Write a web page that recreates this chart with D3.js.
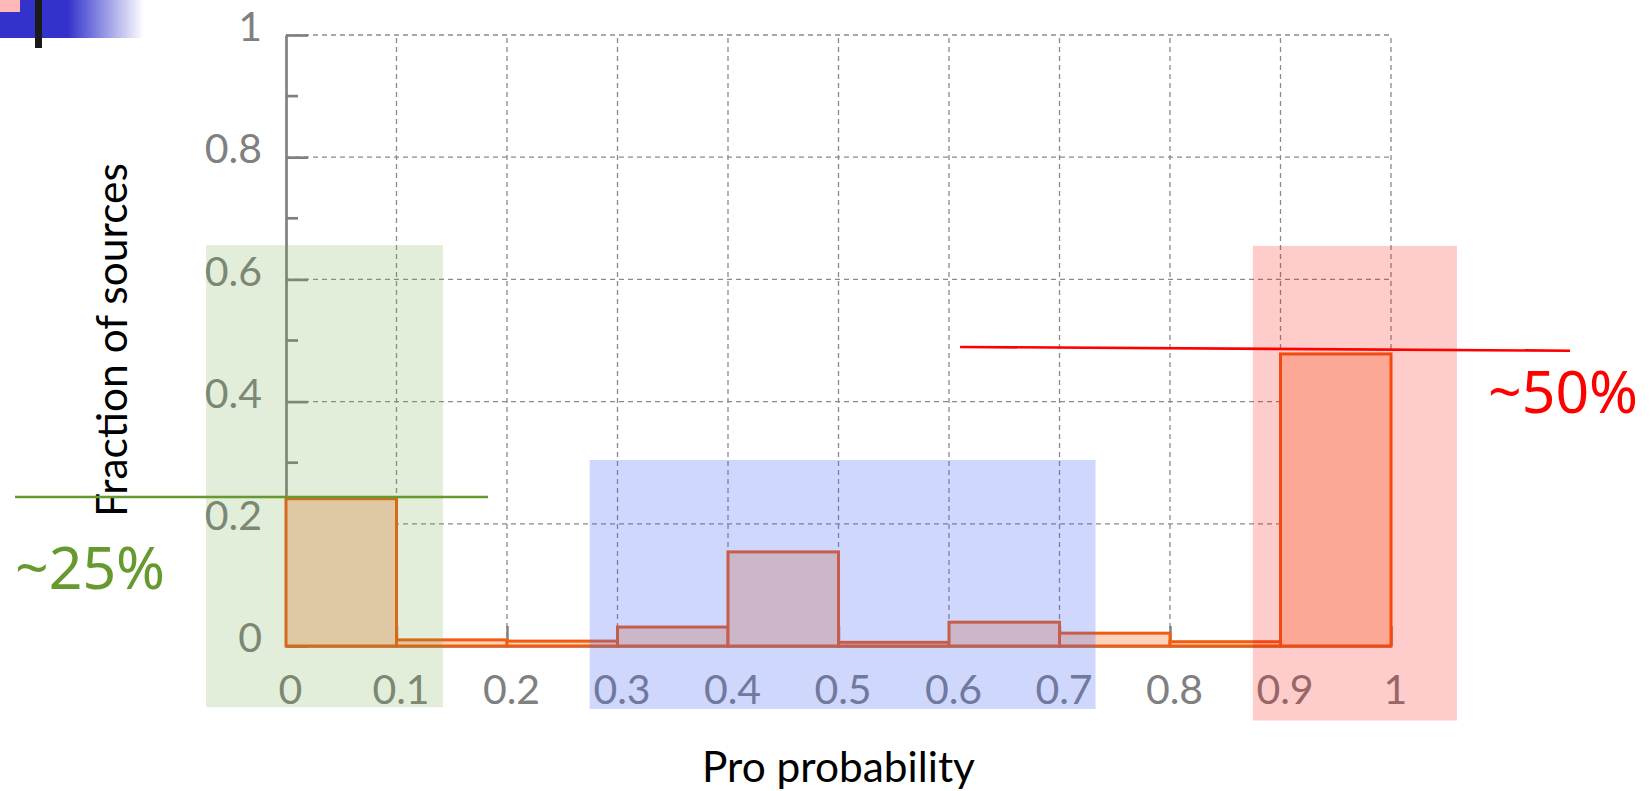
<!DOCTYPE html>
<html>
<head>
<meta charset="utf-8">
<script src="https://cdn.jsdelivr.net/npm/d3@7"></script>
<style>
html,body{margin:0;padding:0;background:#fff;}
svg{display:block;}
</style>
</head>
<body>
<svg id="chart" width="1650" height="791"></svg>
<script>
// ---- data ----
const binStarts = [0, 0.1, 0.2, 0.3, 0.4, 0.5, 0.6, 0.7, 0.8, 0.9];
const binWidth = 0.1;
const fractions = [0.241, 0.010, 0.008, 0.031, 0.154, 0.006, 0.039, 0.021, 0.007, 0.478];
const xTicks = [0, 0.1, 0.2, 0.3, 0.4, 0.5, 0.6, 0.7, 0.8, 0.9, 1];
const xTickLabels = ["0", "0.1", "0.2", "0.3", "0.4", "0.5", "0.6", "0.7", "0.8", "0.9", "1"];
const yTicks = [0, 0.2, 0.4, 0.6, 0.8, 1];
const yTickLabels = ["0", "0.2", "0.4", "0.6", "0.8", "1"];
const yMinorTicks = [0.1, 0.3, 0.5, 0.7, 0.9];
const xTitle = "Pro probability";
const yTitle = "Fraction of sources";
// highlight bands (data units)
const bandNames = ["low", "mid", "high"];
const bandX = [[-0.0724, 0.142], [0.2748, 0.7326], [0.875, 1.0597]];
const bandY = [[-0.100, 0.656], [-0.103, 0.3044], [-0.122, 0.6547]];
// annotations
const annoLabels = ["~25%", "~50%"];
const annoLineX = [[-0.2452, 0.1828], [0.61, 1.162]];
const annoLineY = [[0.2439, 0.2439], [0.4894, 0.4833]];
const annoTextPos = [[-0.2452, 0.0933], [1.0878, 0.3813]];

// ---- styles ----
const gray = "#808080";
const bandFill = ["rgba(110,165,70,0.2)", "rgba(70,100,245,0.26)", "rgba(255,0,0,0.2)"];
const annoColor = ["#66992E", "#FF0000"];
const tickFont = "Lato, 'Open Sans', sans-serif";

const svg = d3.select("#chart");
const x = d3.scaleLinear().domain([0, 1]).range([286, 1391]);
const y = d3.scaleLinear().domain([0, 1]).range([646, 35]);

// slide decoration (top-left)
const deco = svg.append("g");
const grad = svg.append("defs").append("linearGradient").attr("id", "blueFade")
  .attr("x1", "0%").attr("x2", "100%");
grad.append("stop").attr("offset", "0%").attr("stop-color", "#3333CC");
grad.append("stop").attr("offset", "47%").attr("stop-color", "#3333CC");
grad.append("stop").attr("offset", "100%").attr("stop-color", "#ffffff");
deco.append("rect").attr("x", 0).attr("y", 0).attr("width", 144).attr("height", 38).attr("fill", "url(#blueFade)");
deco.append("rect").attr("x", 0).attr("y", 0).attr("width", 20).attr("height", 12).attr("fill", "#FFB8B8");
deco.append("rect").attr("x", 35).attr("y", 0).attr("width", 7).attr("height", 48).attr("fill", "#1a1a1a");

// grid
const grid = svg.append("g").attr("stroke", "#8a8a8a").attr("stroke-width", 1.3).attr("stroke-dasharray", "5,4");
grid.selectAll("line.v").data(xTicks.filter(d => d > 0)).enter().append("line")
  .attr("x1", d => x(d)).attr("x2", d => x(d)).attr("y1", y(0)).attr("y2", y(1));
grid.selectAll("line.h").data(yTicks.filter(d => d > 0)).enter().append("line")
  .attr("x1", x(0)).attr("x2", x(1)).attr("y1", d => y(d)).attr("y2", d => y(d));

// x axis
const xAxis = d3.axisBottom(x).tickValues(xTicks).tickSizeInner(-20).tickSizeOuter(0)
  .tickFormat((d, i) => xTickLabels[i]).tickPadding(0);
const gx = svg.append("g").attr("transform", `translate(0,${y(0)})`).call(xAxis);
gx.select(".domain").attr("stroke", gray).attr("stroke-width", 2.5);
gx.selectAll(".tick line").attr("stroke", gray).attr("stroke-width", 2.5);
gx.selectAll(".tick text").attr("fill", gray).attr("font-family", tickFont).attr("font-size", 41)
  .attr("dy", null).attr("y", 58).attr("dx", 4).attr("text-anchor", "middle");

// y axis
const yAxis = d3.axisLeft(y).tickValues(yTicks).tickSizeInner(-22).tickSizeOuter(0)
  .tickFormat((d, i) => yTickLabels[i]).tickPadding(0);
const gy = svg.append("g").attr("transform", `translate(${x(0)},0)`).call(yAxis);
gy.select(".domain").attr("stroke", gray).attr("stroke-width", 2.7);
gy.selectAll(".tick line").attr("stroke", gray).attr("stroke-width", 2.7);
gy.selectAll(".tick text").attr("fill", gray).attr("font-family", tickFont).attr("font-size", 41)
  .attr("x", -24).attr("dy", "0.14em").attr("text-anchor", "end");
gy.selectAll("line.minor").data(yMinorTicks).enter().append("line")
  .attr("x1", 0).attr("x2", 12).attr("y1", d => y(d)).attr("y2", d => y(d))
  .attr("stroke", gray).attr("stroke-width", 2.7);

// bars
svg.append("g").selectAll("rect").data(binStarts).enter().append("rect")
  .attr("x", d => x(d)).attr("width", d => x(d + binWidth) - x(d))
  .attr("y", (d, i) => y(fractions[i])).attr("height", (d, i) => y(0) - y(fractions[i]))
  .attr("fill", "#FBD3BC").attr("stroke", "#F25C0F").attr("stroke-width", 3);

// titles
const xt = svg.append("text").text(xTitle).attr("x", 838.5).attr("y", 782)
  .attr("text-anchor", "middle").attr("font-family", tickFont).attr("font-size", 36).attr("fill", "#000");
const yt = svg.append("text").text(yTitle).attr("transform", "translate(127,340) rotate(-90)")
  .attr("text-anchor", "middle").attr("font-family", tickFont).attr("font-size", 36).attr("fill", "#000");
function fitWidth(sel, target) {
  const w = sel.node().getComputedTextLength();
  const fs = +sel.attr("font-size");
  sel.attr("font-size", fs * target / w);
}
fitWidth(xt, 273);
fitWidth(yt, 354);

// highlight bands on top
svg.append("g").selectAll("rect").data(bandNames).enter().append("rect")
  .attr("x", (d, i) => x(bandX[i][0])).attr("width", (d, i) => x(bandX[i][1]) - x(bandX[i][0]))
  .attr("y", (d, i) => y(bandY[i][1])).attr("height", (d, i) => y(bandY[i][0]) - y(bandY[i][1]))
  .attr("fill", (d, i) => bandFill[i]);

// annotations
const ann = svg.append("g");
ann.selectAll("line").data(annoLabels).enter().append("line")
  .attr("x1", (d, i) => x(annoLineX[i][0])).attr("x2", (d, i) => x(annoLineX[i][1]))
  .attr("y1", (d, i) => y(annoLineY[i][0])).attr("y2", (d, i) => y(annoLineY[i][1]))
  .attr("stroke", (d, i) => annoColor[i]).attr("stroke-width", 2.6);
ann.selectAll("text").data(annoLabels).enter().append("text")
  .text(d => d)
  .attr("x", (d, i) => x(annoTextPos[i][0])).attr("y", (d, i) => y(annoTextPos[i][1]))
  .attr("fill", (d, i) => annoColor[i])
  .attr("font-family", "'Noto Sans', 'DejaVu Sans', sans-serif")
  .attr("font-size", 58)
  .attr("textLength", 150).attr("lengthAdjust", "spacingAndGlyphs");
</script>
</body>
</html>
